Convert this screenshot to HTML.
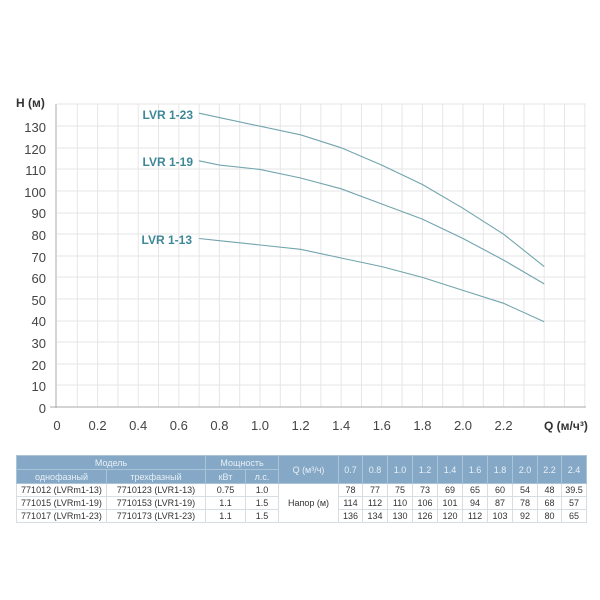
<!DOCTYPE html>
<html><head><meta charset="utf-8"><style>
body{margin:0;width:600px;height:600px;background:#fff;font-family:"Liberation Sans",sans-serif;overflow:hidden;position:relative}
svg{position:absolute;left:0;top:0}
table{position:absolute;left:16px;top:455px;border-collapse:collapse;font-size:9px;color:#333;table-layout:fixed}
td{border:1px solid #d6dde3;text-align:center;padding:0;height:12px;line-height:12px;white-space:nowrap;overflow:hidden}
.h td{background:#84a8c6;color:#e8f0f6;border-color:#a9c3d8;height:13px}
</style></head><body>
<svg width="600" height="600">
<g stroke="#e6e6e6" stroke-width="1">
<line x1="57" y1="104" x2="586" y2="104"/><line x1="57" y1="126" x2="586" y2="126"/><line x1="57" y1="148" x2="586" y2="148"/><line x1="57" y1="169" x2="586" y2="169"/><line x1="57" y1="191" x2="586" y2="191"/><line x1="57" y1="213" x2="586" y2="213"/><line x1="57" y1="234" x2="586" y2="234"/><line x1="57" y1="256" x2="586" y2="256"/><line x1="57" y1="277" x2="586" y2="277"/><line x1="57" y1="299" x2="586" y2="299"/><line x1="57" y1="321" x2="586" y2="321"/><line x1="57" y1="342" x2="586" y2="342"/><line x1="57" y1="364" x2="586" y2="364"/><line x1="57" y1="385" x2="586" y2="385"/>
<line x1="77.3" y1="104" x2="77.3" y2="407"/><line x1="97.6" y1="104" x2="97.6" y2="407"/><line x1="117.9" y1="104" x2="117.9" y2="407"/><line x1="138.2" y1="104" x2="138.2" y2="407"/><line x1="158.5" y1="104" x2="158.5" y2="407"/><line x1="178.8" y1="104" x2="178.8" y2="407"/><line x1="199.1" y1="104" x2="199.1" y2="407"/><line x1="219.4" y1="104" x2="219.4" y2="407"/><line x1="239.7" y1="104" x2="239.7" y2="407"/><line x1="260" y1="104" x2="260" y2="407"/><line x1="280.3" y1="104" x2="280.3" y2="407"/><line x1="300.6" y1="104" x2="300.6" y2="407"/><line x1="320.9" y1="104" x2="320.9" y2="407"/><line x1="341.2" y1="104" x2="341.2" y2="407"/><line x1="361.5" y1="104" x2="361.5" y2="407"/><line x1="381.8" y1="104" x2="381.8" y2="407"/><line x1="402.1" y1="104" x2="402.1" y2="407"/><line x1="422.4" y1="104" x2="422.4" y2="407"/><line x1="442.7" y1="104" x2="442.7" y2="407"/><line x1="463" y1="104" x2="463" y2="407"/><line x1="483.3" y1="104" x2="483.3" y2="407"/><line x1="503.6" y1="104" x2="503.6" y2="407"/><line x1="523.9" y1="104" x2="523.9" y2="407"/><line x1="544.2" y1="104" x2="544.2" y2="407"/><line x1="564.5" y1="104" x2="564.5" y2="407"/><line x1="584.8" y1="104" x2="584.8" y2="407"/>
</g>
<g stroke="#aaa" stroke-width="1"><line x1="56" y1="104" x2="56" y2="408"/><line x1="50" y1="407" x2="586" y2="407"/></g>
<g fill="none" stroke="#72a4ae" stroke-width="1.1">
<polyline points="199.1,113.2 219.4,117.6 260,126.2 300.6,134.8 341.2,147.8 381.8,165.1 422.4,184.5 463,208.3 503.6,234.2 544.2,266.6"/>
<polyline points="199.1,160.8 219.4,165.1 260,169.4 300.6,178 341.2,188.8 381.8,204 422.4,219.1 463,238.5 503.6,260.1 544.2,283.9"/>
<polyline points="199.1,238.5 219.4,240.7 260,245 300.6,249.3 341.2,258 381.8,266.6 422.4,277.4 463,290.4 503.6,303.3 544.2,321.7"/>
</g>
<g font-size="13" fill="#444" text-anchor="end">
<text x="46" y="132">130</text><text x="46" y="154">120</text><text x="46" y="175">110</text><text x="46" y="197">100</text><text x="46" y="218">90</text><text x="46" y="240">80</text><text x="46" y="262">70</text><text x="46" y="283">60</text><text x="46" y="305">50</text><text x="46" y="326">40</text><text x="46" y="348">30</text><text x="46" y="370">20</text><text x="46" y="391">10</text><text x="46" y="413">0</text>
</g>
<text x="16" y="107" font-size="12" font-weight="bold" fill="#333">H (м)</text>
<g font-size="13" fill="#444" text-anchor="middle">
<text x="57" y="430">0</text><text x="97.6" y="430">0.2</text><text x="138.2" y="430">0.4</text><text x="178.8" y="430">0.6</text><text x="219.4" y="430">0.8</text><text x="260" y="430">1.0</text><text x="300.6" y="430">1.2</text><text x="341.2" y="430">1.4</text><text x="381.8" y="430">1.6</text><text x="422.4" y="430">1.8</text><text x="463" y="430">2.0</text><text x="503.6" y="430">2.2</text>
</g>
<text x="544" y="430" font-size="12" font-weight="bold" fill="#333">Q (м/ч³)</text>
<g font-size="12" font-weight="bold" fill="#3d8797" text-anchor="end">
<text x="193" y="119">LVR 1-23</text><text x="193" y="166">LVR 1-19</text><text x="192" y="244">LVR 1-13</text>
</g>
</svg>
<table>
<colgroup><col style="width:90px"><col style="width:99px"><col style="width:40px"><col style="width:33px"><col style="width:60px"><col style="width:24px"><col style="width:25px"><col style="width:25px"><col style="width:25px"><col style="width:25px"><col style="width:25px"><col style="width:25px"><col style="width:25px"><col style="width:24px"><col style="width:25px"></colgroup>
<tr class="h"><td colspan="2">Модель</td><td colspan="2">Мощность</td><td rowspan="2">Q (м³/ч)</td><td rowspan="2">0.7</td><td rowspan="2">0.8</td><td rowspan="2">1.0</td><td rowspan="2">1.2</td><td rowspan="2">1.4</td><td rowspan="2">1.6</td><td rowspan="2">1.8</td><td rowspan="2">2.0</td><td rowspan="2">2.2</td><td rowspan="2">2.4</td></tr>
<tr class="h"><td>однофазный</td><td>трехфазный</td><td>кВт</td><td>л.с.</td></tr>
<tr><td>771012 (LVRm1-13)</td><td>7710123 (LVR1-13)</td><td>0.75</td><td>1.0</td><td rowspan="3">Напор (м)</td><td>78</td><td>77</td><td>75</td><td>73</td><td>69</td><td>65</td><td>60</td><td>54</td><td>48</td><td>39.5</td></tr>
<tr><td>771015 (LVRm1-19)</td><td>7710153 (LVR1-19)</td><td>1.1</td><td>1.5</td><td>114</td><td>112</td><td>110</td><td>106</td><td>101</td><td>94</td><td>87</td><td>78</td><td>68</td><td>57</td></tr>
<tr><td>771017 (LVRm1-23)</td><td>7710173 (LVR1-23)</td><td>1.1</td><td>1.5</td><td>136</td><td>134</td><td>130</td><td>126</td><td>120</td><td>112</td><td>103</td><td>92</td><td>80</td><td>65</td></tr>
</table>
</body></html>
